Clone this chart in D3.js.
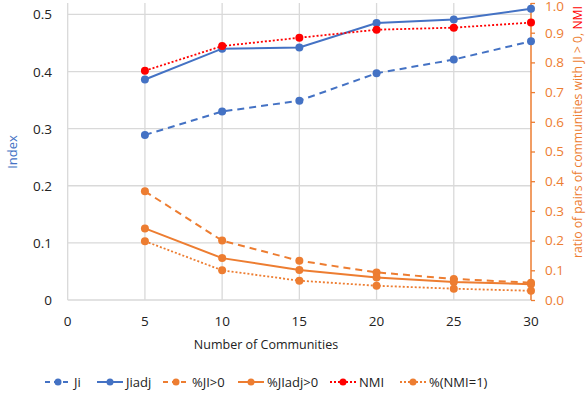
<!DOCTYPE html>
<html>
<head>
<meta charset="utf-8">
<script src="https://cdn.jsdelivr.net/npm/d3@7"></script>
<style>
  body { margin: 0; background: #fff; }
  text { font-family: "Open Sans", "Noto Sans", sans-serif; }
</style>
</head>
<body>
<svg id="chart" width="587" height="397"></svg>
<script>
// data
var communities = [5, 10, 15, 20, 25, 30];
var ji = [0.289, 0.330, 0.349, 0.397, 0.421, 0.453];
var jiadj = [0.386, 0.440, 0.442, 0.485, 0.491, 0.510];
var pctJi = [0.366, 0.200, 0.132, 0.093, 0.071, 0.058];
var pctJiadj = [0.241, 0.141, 0.101, 0.076, 0.061, 0.053];
var nmi = [0.772, 0.855, 0.883, 0.910, 0.917, 0.934];
var pctNmi1 = [0.198, 0.100, 0.065, 0.048, 0.038, 0.031];

var xTicks = [0, 5, 10, 15, 20, 25, 30];
var leftTicks = [0, 0.1, 0.2, 0.3, 0.4, 0.5];
var rightTicks = d3.range(0, 11).map(function (d) { return d / 10; });

var blue = "#4472C4", orange = "#ED7D31", red = "#FF0000", grid = "#d9d9d9";

var svg = d3.select("#chart");

var x = d3.scaleLinear().domain([0, 30]).range([67.7, 531]);
var yL = d3.scaleLinear().domain([0, 0.52]).range([300, 3]);
var yR = d3.scaleLinear().domain([0, 1]).range([300, 3]);

// gridlines
svg.append("g").selectAll("line")
    .data(leftTicks.slice(1))
    .enter().append("line")
    .attr("x1", x(0)).attr("x2", x(30))
    .attr("y1", function (d) { return yL(d); })
    .attr("y2", function (d) { return yL(d); })
    .attr("stroke", grid).attr("stroke-width", 1.3);

svg.append("g").selectAll("line")
    .data(xTicks.slice(0, 6))
    .enter().append("line")
    .attr("x1", function (d) { return x(d); })
    .attr("x2", function (d) { return x(d); })
    .attr("y1", 3).attr("y2", 300)
    .attr("stroke", grid).attr("stroke-width", 1.3);

// bottom axis line
svg.append("line")
    .attr("x1", x(0)).attr("x2", x(30))
    .attr("y1", 300).attr("y2", 300)
    .attr("stroke", grid).attr("stroke-width", 1.3);

// left tick labels
svg.append("g").selectAll("text")
    .data(leftTicks)
    .enter().append("text")
    .attr("x", 52)
    .attr("y", function (d) { return yL(d) + 5; })
    .attr("text-anchor", "end")
    .attr("font-size", 13.5)
    .attr("fill", "#222")
    .text(function (d) { return d === 0 ? "0" : d.toFixed(1); });

// x tick labels
svg.append("g").selectAll("text")
    .data(xTicks)
    .enter().append("text")
    .attr("x", function (d) { return x(d); })
    .attr("y", 326)
    .attr("text-anchor", "middle")
    .attr("font-size", 13.5)
    .attr("fill", "#222")
    .text(function (d) { return d; });

// right axis
var rightAxis = d3.axisRight(yR)
    .tickValues(rightTicks)
    .tickSize(4)
    .tickPadding(10)
    .tickFormat(d3.format(".1f"));

var ra = svg.append("g")
    .attr("transform", "translate(" + x(30) + ",0)")
    .call(rightAxis);
ra.select(".domain").attr("stroke", orange).attr("stroke-width", 1.5).attr("d", "M0,3V300");
ra.selectAll(".tick line").attr("stroke", orange).attr("stroke-width", 1.3);
ra.selectAll(".tick text")
    .attr("fill", orange)
    .attr("font-size", 13.5)
    .attr("dy", function (d) { return d === 1 ? "0.55em" : "0.32em"; })
    .attr("font-family", "Open Sans, sans-serif");

// axis titles
svg.append("text")
    .attr("transform", "translate(17,152) rotate(-90)")
    .attr("text-anchor", "middle")
    .attr("font-size", 13)
    .attr("fill", blue)
    .text("Index");

var rt = svg.append("text")
    .attr("transform", "translate(582,258) rotate(-90)")
    .attr("text-anchor", "start")
    .attr("font-size", 13.5)
    .attr("textLength", 252)
    .attr("lengthAdjust", "spacingAndGlyphs")
    .attr("fill", orange);
rt.append("tspan").text("ratio of pairs of communities with JI > 0, ");
rt.append("tspan").attr("fill", red).text("NMI");

svg.append("text")
    .attr("x", 266)
    .attr("y", 349)
    .attr("text-anchor", "middle")
    .attr("font-size", 12.5)
    .attr("fill", "#222")
    .text("Number of Communities");

// series
var series = [
    { name: "Ji", values: ji, scale: yL, color: blue, dash: "7,5", width: 2 },
    { name: "Jiadj", values: jiadj, scale: yL, color: blue, dash: null, width: 2 },
    { name: "%JI>0", values: pctJi, scale: yR, color: orange, dash: "7,5", width: 2 },
    { name: "%JIadj>0", values: pctJiadj, scale: yR, color: orange, dash: null, width: 2 },
    { name: "NMI", values: nmi, scale: yR, color: red, dash: "2,2", width: 1.8 },
    { name: "%(NMI=1)", values: pctNmi1, scale: yR, color: orange, dash: "2,2", width: 1.8 }
];

series.forEach(function (s) {
    var line = d3.line()
        .x(function (d, i) { return x(communities[i]); })
        .y(function (d) { return s.scale(d); });

    var g = svg.append("g");
    g.append("path")
        .datum(s.values)
        .attr("d", line)
        .attr("fill", "none")
        .attr("stroke", s.color)
        .attr("stroke-width", s.width)
        .attr("stroke-dasharray", s.dash);

    g.selectAll("circle")
        .data(s.values)
        .enter().append("circle")
        .attr("cx", function (d, i) { return x(communities[i]); })
        .attr("cy", function (d) { return s.scale(d); })
        .attr("r", 4)
        .attr("fill", s.color);
});

// legend
var legendX = [45, 97, 163, 238, 330, 400];
var legend = svg.append("g").attr("transform", "translate(0,382)");
series.forEach(function (s, i) {
    var lg = legend.append("g").attr("transform", "translate(" + legendX[i] + ",0)");
    lg.append("line")
        .attr("x1", 0).attr("x2", 26)
        .attr("stroke", s.color)
        .attr("stroke-width", s.width)
        .attr("stroke-dasharray", s.dash === "7,5" ? "5,4" : s.dash);
    lg.append("circle").attr("cx", 13).attr("r", 3.5).attr("fill", s.color);
    lg.append("text")
        .attr("x", 29).attr("y", 5)
        .attr("font-size", 13)
        .attr("fill", "#222")
        .text(s.name);
});
</script>
</body>
</html>
